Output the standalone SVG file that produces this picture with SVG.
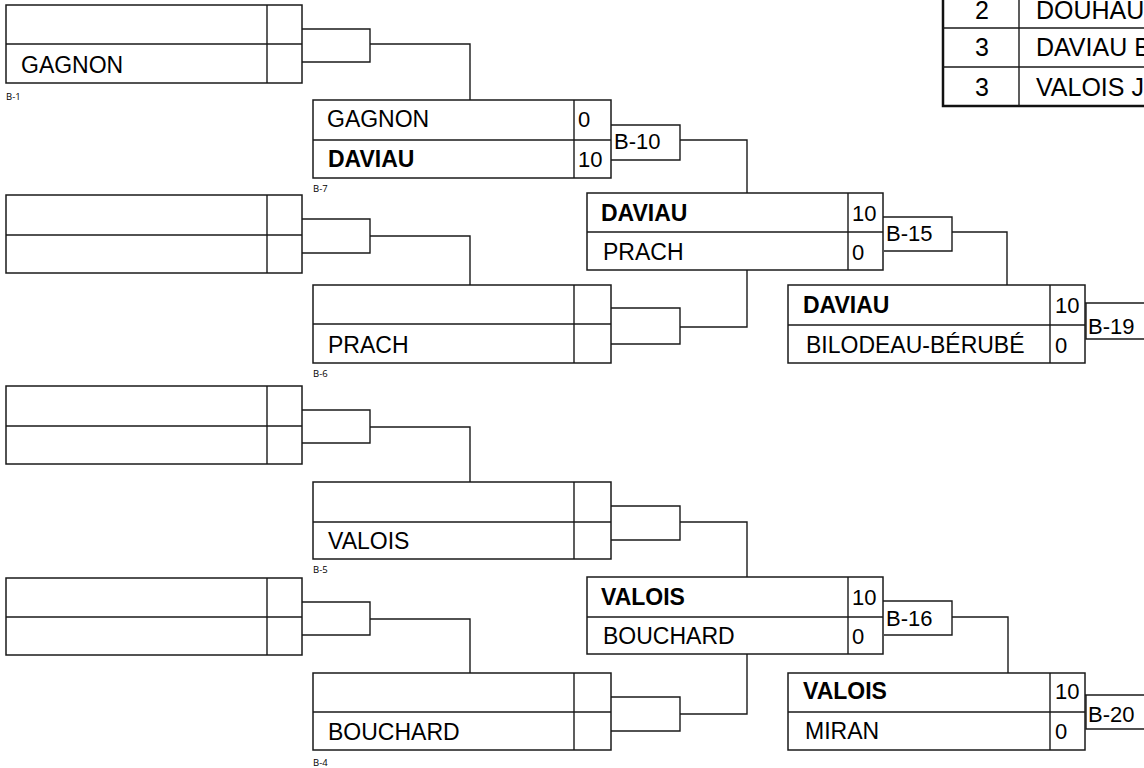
<svg xmlns="http://www.w3.org/2000/svg" width="1144" height="768" viewBox="0 0 1144 768">
<style>
.bx{fill:#fff;stroke:#1a1a1a;stroke-width:1.5}
.ln{fill:none;stroke:#1a1a1a;stroke-width:1.4}
.nm{font-family:"Liberation Sans",Arial,sans-serif;font-size:23px;fill:#000}
.b{font-weight:bold}
.sc{font-family:"Liberation Sans",Arial,sans-serif;font-size:22px;fill:#000}
.lb{font-family:"Liberation Sans",Arial,sans-serif;font-size:22px;fill:#000}
.sm{font-family:"Open Sans","Noto Sans",sans-serif;font-size:9.5px;fill:#000}
.tb{font-family:"Liberation Sans",Arial,sans-serif;font-size:25px;fill:#000}
</style>
<rect width="1144" height="768" fill="#fff"/>

<g id="connectors">
<path class="ln" d="M302,29H370V62H302M370,44H470V100"/>
<path class="ln" d="M302,219H370V253H302M370,236H470V285"/>
<path class="ln" d="M302,410H370V443H302M370,427H470V482"/>
<path class="ln" d="M302,602H370V635H302M370,619H470V673"/>
<path class="ln" d="M611,125H680V160H611M680,140H747V193"/>
<path class="ln" d="M611,308H680V344H611M680,327H747V270"/>
<path class="ln" d="M611,506H680V540H611M680,522H747V577"/>
<path class="ln" d="M611,697H680V731H611M680,714H747V654"/>
<path class="ln" d="M883,217H952V251H884M952,232H1007V285"/>
<path class="ln" d="M883,601H952V635H884M952,617H1008V673"/>
<path class="ln" d="M1085,303H1144M1086,303V339H1144"/>
<path class="ln" d="M1085,695H1144M1086,695V729H1144"/>
</g>

<g id="B-1">
<rect class="bx" x="6" y="5" width="296" height="78"/>
<path class="ln" d="M6,44H302M267,5V83"/>
<text class="nm" x="21" y="73">GAGNON</text>
<text class="sm" x="6" y="100">B-1</text>
</g>
<g id="B-2">
<rect class="bx" x="6" y="195" width="296" height="78"/>
<path class="ln" d="M6,235H302M267,195V273"/>
</g>
<g id="B-3">
<rect class="bx" x="6" y="386" width="296" height="78"/>
<path class="ln" d="M6,426H302M267,386V464"/>
</g>
<g id="B-3b">
<rect class="bx" x="6" y="578" width="296" height="77"/>
<path class="ln" d="M6,617H302M267,578V655"/>
</g>

<g id="B-7">
<rect class="bx" x="313" y="100" width="298" height="78"/>
<path class="ln" d="M313,140H611M574,100V178"/>
<text class="nm" x="327" y="127">GAGNON</text>
<text class="nm b" x="328" y="167">DAVIAU</text>
<text class="sc" x="578" y="127">0</text>
<text class="sc" x="578" y="167">10</text>
<text class="sm" x="313" y="192">B-7</text>
</g>
<g id="B-6">
<rect class="bx" x="313" y="285" width="298" height="78"/>
<path class="ln" d="M313,324H611M574,285V363"/>
<text class="nm" x="328" y="353">PRACH</text>
<text class="sm" x="313" y="377">B-6</text>
</g>
<g id="B-5">
<rect class="bx" x="313" y="482" width="298" height="77"/>
<path class="ln" d="M313,522H611M574,482V559"/>
<text class="nm" x="328" y="549">VALOIS</text>
<text class="sm" x="313" y="573">B-5</text>
</g>
<g id="B-4">
<rect class="bx" x="313" y="673" width="298" height="77"/>
<path class="ln" d="M313,712H611M574,673V750"/>
<text class="nm" x="328" y="740">BOUCHARD</text>
<text class="sm" x="313" y="766">B-4</text>
</g>

<g id="B-10">
<rect class="bx" x="587" y="193" width="296" height="77"/>
<path class="ln" d="M587,232H883M848,193V270"/>
<text class="nm b" x="601" y="221">DAVIAU</text>
<text class="nm" x="603" y="260">PRACH</text>
<text class="sc" x="852" y="221">10</text>
<text class="sc" x="852" y="260">0</text>
<text class="lb" x="614" y="149">B-10</text>
</g>
<g id="B-11">
<rect class="bx" x="587" y="577" width="296" height="77"/>
<path class="ln" d="M587,617H883M848,577V654"/>
<text class="nm b" x="601" y="605">VALOIS</text>
<text class="nm" x="603" y="644">BOUCHARD</text>
<text class="sc" x="852" y="605">10</text>
<text class="sc" x="852" y="644">0</text>
</g>

<g id="B-15">
<rect class="bx" x="788" y="285" width="297" height="78"/>
<path class="ln" d="M788,325H1085M1050,285V363"/>
<text class="nm b" x="803" y="313">DAVIAU</text>
<text class="nm" x="806" y="353">BILODEAU-BÉRUBÉ</text>
<text class="sc" x="1055" y="313">10</text>
<text class="sc" x="1055" y="353">0</text>
<text class="lb" x="886" y="241">B-15</text>
<text class="lb" x="1088" y="334">B-19</text>
</g>
<g id="B-16">
<rect class="bx" x="788" y="673" width="297" height="77"/>
<path class="ln" d="M788,712H1085M1050,673V750"/>
<text class="nm b" x="803" y="699">VALOIS</text>
<text class="nm" x="805" y="739">MIRAN</text>
<text class="sc" x="1055" y="699">10</text>
<text class="sc" x="1055" y="739">0</text>
<text class="lb" x="886" y="626">B-16</text>
<text class="lb" x="1088" y="722">B-20</text>
</g>

<g id="standings">
<rect x="943" y="-20" width="230" height="126" fill="#fff" stroke="#111" stroke-width="2.5"/>
<path class="ln" d="M943,28H1144M943,67H1144M1019,-20V106"/>
<text class="tb" x="982" y="19" text-anchor="middle">2</text>
<text class="tb" x="1036" y="19">DOUHAU</text>
<text class="tb" x="982" y="56" text-anchor="middle">3</text>
<text class="tb" x="1036" y="56">DAVIAU B</text>
<text class="tb" x="982" y="96" text-anchor="middle">3</text>
<text class="tb" x="1036" y="96">VALOIS J</text>
</g>
</svg>
